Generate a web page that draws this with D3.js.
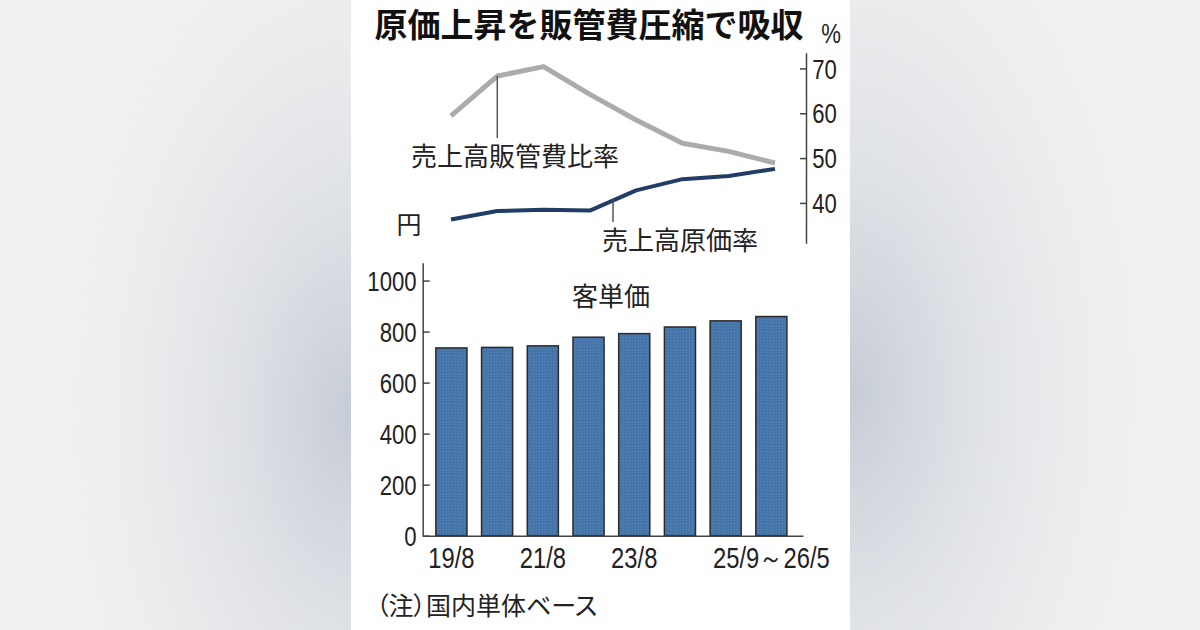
<!DOCTYPE html>
<html>
<head>
<meta charset="utf-8">
<script src="https://cdn.jsdelivr.net/npm/d3@7"></script>
<style>
  html, body { margin: 0; padding: 0; }
  body { width: 1200px; height: 630px; overflow: hidden; }
  .jp { font-family: "Noto Sans CJK JP", "Noto Sans", sans-serif; }
  .num { font-family: "Liberation Sans", "Roboto", sans-serif; }
</style>
</head>
<body>
<div id="chart"></div>
<script>
// data
const periods = ["19/8", "20/8", "21/8", "22/8", "23/8", "24/8", "25/8", "25/9~26/5"];
const periodLabels = ["19/8", "21/8", "23/8", "25/9~26/5"];
const unitPrice = [736, 738, 744, 778, 792, 818, 842, 859];      // 客単価 (円)
const sgaRatio = [59.4, 68.3, 70.4, 64.2, 58.5, 53.3, 51.5, 48.9]; // 売上高販管費比率 (%)
const costRatio = [36.3, 38.2, 38.5, 38.3, 42.8, 45.3, 46.0, 47.6]; // 売上高原価率 (%)
const priceTicks = [0, 200, 400, 600, 800, 1000];
const pctTicks = [40, 50, 60, 70];

const W = 1200, H = 630;
const narrow = "scale(0.82,1)"; // condensed look for numbers

const svg = d3.select("#chart").append("svg")
    .attr("width", W)
    .attr("height", H);

// blurred backdrop on both sides
const defs = svg.append("defs");
const glowL = defs.append("radialGradient").attr("id", "glowL")
    .attr("cx", 1.0).attr("cy", 0.66).attr("r", 1.0);
glowL.append("stop").attr("offset", "0%").attr("stop-color", "#c6ccd6");
glowL.append("stop").attr("offset", "100%").attr("stop-color", "#f3f3f3").attr("stop-opacity", 0);
const glowR = defs.append("radialGradient").attr("id", "glowR")
    .attr("cx", 0.0).attr("cy", 0.62).attr("r", 1.0);
glowR.append("stop").attr("offset", "0%").attr("stop-color", "#c6ccd6");
glowR.append("stop").attr("offset", "100%").attr("stop-color", "#f0f1f2").attr("stop-opacity", 0);

const dots = defs.append("pattern").attr("id", "dots")
    .attr("width", 3).attr("height", 3).attr("patternUnits", "userSpaceOnUse");
dots.append("rect").attr("width", 3).attr("height", 3).attr("fill", "#4877ac");
dots.append("rect").attr("width", 1).attr("height", 1).attr("fill", "#3f6c9f");
dots.append("rect").attr("x", 2).attr("y", 1).attr("width", 1).attr("height", 1).attr("fill", "#5283b6");

svg.append("rect").attr("width", W).attr("height", H).attr("fill", "#f1f1f1");
svg.append("rect").attr("x", 0).attr("width", 351).attr("height", H).attr("fill", "url(#glowL)");
svg.append("rect").attr("x", 850).attr("width", 350).attr("height", H).attr("fill", "url(#glowR)");
svg.append("rect").attr("x", 351).attr("width", 499).attr("height", H).attr("fill", "#ffffff");

// title
svg.append("text")
    .attr("class", "jp")
    .attr("x", 589).attr("y", 37)
    .attr("text-anchor", "middle")
    .attr("font-size", 33).attr("font-weight", 700)
    .attr("fill", "#111")
    .text("原価上昇を販管費圧縮で吸収");

// ---- top: ratios (%) ----
const xLine = d3.scalePoint().domain(periods).range([451, 775]);
const yPct = d3.scaleLinear().domain([31, 73.5]).range([243.3, 52.7]);

const pctAxis = svg.append("g")
    .attr("transform", "translate(806,0)")
    .call(d3.axisRight(yPct).tickValues(pctTicks).tickSizeInner(-6).tickSizeOuter(0).tickPadding(7.5));
pctAxis.select(".domain").attr("stroke", "#444").attr("stroke-width", 1.5);
pctAxis.selectAll(".tick line").attr("stroke", "#444").attr("stroke-width", 1.5);
pctAxis.selectAll(".tick text")
    .attr("class", "num").attr("font-size", 27).attr("fill", "#222")
    .attr("dy", "0.36em").attr("transform", narrow);

svg.append("text")
    .attr("class", "num")
    .attr("x", 831 / 0.82).attr("y", 43)
    .attr("text-anchor", "middle")
    .attr("transform", narrow)
    .attr("font-size", 27).attr("fill", "#222")
    .text("%");

const line = d3.line()
    .x((d, i) => xLine(periods[i]))
    .y(d => yPct(d));

svg.append("path")
    .datum(sgaRatio)
    .attr("d", line)
    .attr("fill", "none")
    .attr("stroke", "#ababab")
    .attr("stroke-width", 5)
    .attr("stroke-linejoin", "round");

svg.append("path")
    .datum(costRatio)
    .attr("d", line)
    .attr("fill", "none")
    .attr("stroke", "#213c66")
    .attr("stroke-width", 4)
    .attr("stroke-linejoin", "round");

// leader lines + labels
svg.append("line")
    .attr("x1", xLine(periods[1])).attr("x2", xLine(periods[1]))
    .attr("y1", yPct(sgaRatio[1])).attr("y2", 138)
    .attr("stroke", "#555").attr("stroke-width", 1.5);
svg.append("text")
    .attr("class", "jp")
    .attr("x", 411).attr("y", 166)
    .attr("font-size", 26).attr("fill", "#222")
    .text("売上高販管費比率");

const midX = (xLine(periods[3]) + xLine(periods[4])) / 2;
const midY = yPct((costRatio[3] + costRatio[4]) / 2);
svg.append("line")
    .attr("x1", midX).attr("x2", midX)
    .attr("y1", midY).attr("y2", 222)
    .attr("stroke", "#555").attr("stroke-width", 1.5);
svg.append("text")
    .attr("class", "jp")
    .attr("x", 602).attr("y", 250)
    .attr("font-size", 26).attr("fill", "#222")
    .text("売上高原価率");

// ---- bottom: unit price (円) ----
svg.append("text")
    .attr("class", "jp")
    .attr("x", 409).attr("y", 234)
    .attr("text-anchor", "middle")
    .attr("font-size", 25).attr("fill", "#222")
    .text("円");

const xBar = d3.scaleBand().domain(periods)
    .range([422.7, 803])
    .paddingInner(0.32).paddingOuter(0.32).align(0.45);
const yPrice = d3.scaleLinear().domain([0, 1070]).range([535.7, 262.7]);

svg.append("g").selectAll("rect")
    .data(unitPrice)
    .join("rect")
    .attr("x", (d, i) => xBar(periods[i]))
    .attr("y", d => yPrice(d))
    .attr("width", xBar.bandwidth())
    .attr("height", d => yPrice(0) - yPrice(d))
    .attr("fill", "url(#dots)")
    .attr("stroke", "#2a2a2a")
    .attr("stroke-width", 1.5);

const priceAxis = svg.append("g")
    .attr("transform", "translate(422.7,0)")
    .call(d3.axisLeft(yPrice).tickValues(priceTicks).tickFormat(d3.format("d"))
        .tickSizeInner(-7).tickSizeOuter(0).tickPadding(7.5));
priceAxis.select(".domain").attr("stroke", "#444").attr("stroke-width", 1.5);
priceAxis.selectAll(".tick line").attr("stroke", "#444").attr("stroke-width", 1.5);
priceAxis.selectAll(".tick text")
    .attr("class", "num").attr("font-size", 27).attr("fill", "#222")
    .attr("dy", "0.36em").attr("transform", narrow);

const periodAxis = svg.append("g")
    .attr("transform", `translate(0,${yPrice(0)})`)
    .call(d3.axisBottom(xBar).tickValues(periodLabels).tickSize(0).tickPadding(0));
periodAxis.select(".domain").attr("stroke", "#444").attr("stroke-width", 1.5);
periodAxis.selectAll(".tick text")
    .attr("class", "num").attr("font-size", 29).attr("fill", "#222")
    .attr("y", 32).attr("dy", 0).attr("transform", narrow)
    .text(d => d.replace("~", "～"));

svg.append("text")
    .attr("class", "jp")
    .attr("x", 611).attr("y", 306)
    .attr("text-anchor", "middle")
    .attr("font-size", 26).attr("fill", "#222")
    .text("客単価");

// note
svg.append("text")
    .attr("class", "jp")
    .attr("x", 376).attr("y", 615)
    .attr("font-size", 25).attr("fill", "#222")
    .style("font-feature-settings", "'palt'")
    .text("（注）国内単体ベース");
</script>
</body>
</html>
